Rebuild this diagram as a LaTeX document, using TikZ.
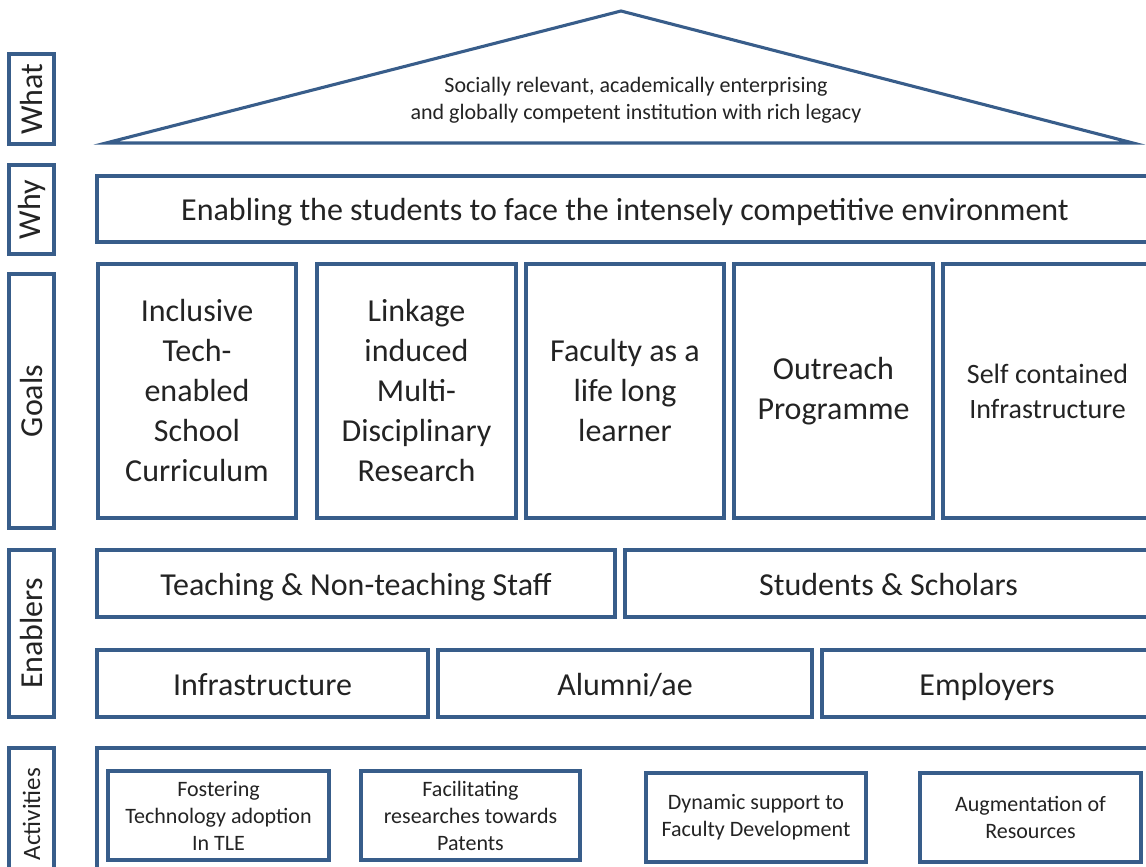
\documentclass[tikz,border=0pt]{standalone}
\usepackage{fontspec}
\setmainfont{Carlito}
\usetikzlibrary{positioning}
\definecolor{houseblue}{RGB}{56, 93, 138}
\definecolor{inkgray}{RGB}{35, 35, 35}

\begin{document}
\begin{tikzpicture}[x=1pt, y=-1pt,
        block/.style={draw=houseblue, line width=3.1pt, text=inkgray, align=center, inner sep=0pt},
        big/.style={font=\fontsize{32}{40}\selectfont},
        small/.style={font=\fontsize{22}{27}\selectfont},
        oneline/.style={text height=27pt, text depth=4pt},
        tag/.style={block, big, rotate=90, minimum height=45pt}]
    \useasboundingbox (0,0) rectangle (1146,867);
    \clip (0,0) rectangle (1146,867);

    % side labels
    \node[tag, minimum width=90pt] (what) at (31.5, 99) {What};
    \node[tag, minimum width=89pt] (why) at (31.5, 209.5) {Why};
    \node[tag, minimum width=254pt] (goals) at (31.5, 401) {Goals};
    \node[tag, minimum width=167pt] (enablers) at (31.5, 633.5) {Enablers};
    \node[tag, minimum width=132pt, font=\fontsize{25}{30}\selectfont] (activities) at (31.5, 814) {Activities};

    % roof
    \draw[houseblue, line width=3.1pt] (106, 143) -- (621, 11) -- (1133, 143) -- cycle;
    \node[small, text=inkgray, align=center] (vision) at (636, 100)
        {Socially relevant, academically enterprising\\and globally competent institution with rich legacy};

    % why
    \node[block, big, oneline, minimum width=1056pt, minimum height=66pt] (mission) at (625, 209)
        {Enabling the students to face the intensely competitive environment};

    % goals
    \node[block, big, minimum width=198pt, minimum height=254pt] (goalA) at (197, 391)
        {Inclusive\\Tech-\\enabled\\School\\Curriculum};
    \node[block, big, minimum width=199pt, minimum height=254pt] (goalB) at (416.5, 391)
        {Linkage\\induced\\Multi-\\Disciplinary\\Research};
    \node[block, big, minimum width=198pt, minimum height=254pt] (goalC) at (625, 391)
        {Faculty as a\\life long\\learner};
    \node[block, big, minimum width=199pt, minimum height=254pt] (goalD) at (833.5, 391)
        {Outreach\\Programme\vphantom{y}};
    \node[block, font=\fontsize{28}{35}\selectfont, minimum width=209pt, minimum height=254pt] (goalE) at (1047.5, 391)
        {Self contained\\Infrastructure};

    % enablers
    \node[block, big, oneline, minimum width=518pt, minimum height=67pt] (staff) at (356, 583.5)
        {Teaching \& Non-teaching Staff};
    \node[block, big, oneline, minimum width=527pt, minimum height=67pt] (students) at (888.5, 583.5)
        {Students \& Scholars};
    \node[block, big, oneline, minimum width=331pt, minimum height=67pt] (infra) at (262.5, 683.5) {Infrastructure};
    \node[block, big, oneline, minimum width=374pt, minimum height=67pt] (alumni) at (625, 683.5) {Alumni/ae};
    \node[block, big, oneline, minimum width=330pt, minimum height=67pt] (employers) at (987, 683.5) {Employers};

    % activities
    \node[block, minimum width=1055pt, minimum height=132pt] (actframe) at (624.5, 814) {};
    \node[block, small, minimum width=221pt, minimum height=89pt] (actA) at (218.5, 815.5)
        {Fostering\\Technology adoption\\In TLE};
    \node[block, small, minimum width=219pt, minimum height=89pt] (actB) at (470.5, 815.5)
        {Facilitating\\researches towards\\Patents};
    \node[block, small, minimum width=220pt, minimum height=89pt] (actC) at (756, 817.5)
        {Dynamic support to\\Faculty Development};
    \node[block, small, minimum width=221pt, minimum height=89pt] (actD) at (1030.5, 817.5)
        {Augmentation of\\Resources};
\end{tikzpicture}
\end{document}
